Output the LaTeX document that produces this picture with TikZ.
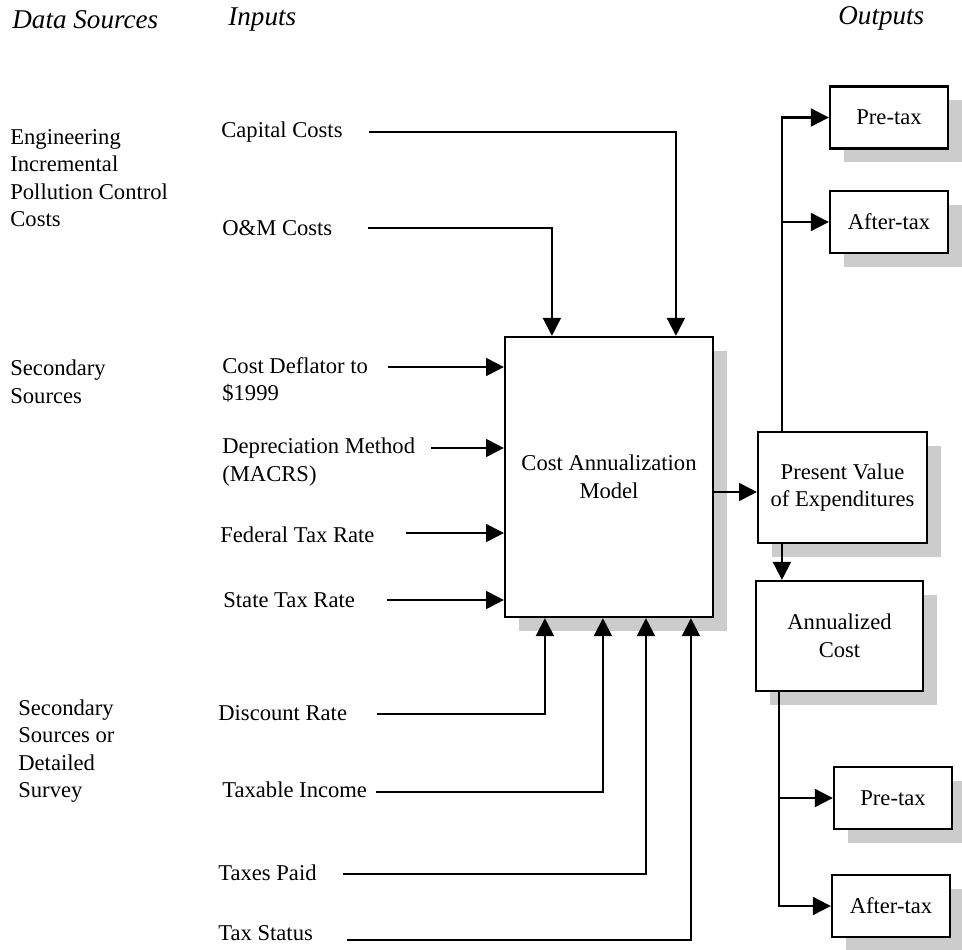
\documentclass[tikz,border=0pt]{standalone}
\usepackage{fontspec}
\setmainfont{Liberation Serif}
\usetikzlibrary{arrows.meta, calc, shadows}

\begin{document}
\begin{tikzpicture}[
    x=0.531pt, y=-0.531pt,
    box/.style={rectangle, draw=black, line width=1.2pt, fill=white, align=center, inner sep=2pt, font=\fontsize{12}{14.6}\selectfont, general shadow={fill=black!20, shadow xshift=7.4pt, shadow yshift=-7.4pt}},
    smallbox/.style={box, minimum width=62.7pt, minimum height=32.9pt},
    lbl/.style={anchor=west, align=left, inner sep=0pt, font=\fontsize{12}{14.6}\selectfont},
    hdr/.style={anchor=west, inner sep=0pt, font=\fontsize{14.4}{17}\selectfont\itshape},
    arr/.style={-{Triangle[length=9.5pt, width=9.5pt]}, line width=1.1pt}
]
    \useasboundingbox (0,0) rectangle (962,950);

    % Column headers
    \node[hdr] (h_src) at (12,20) {Data Sources};
    \node[hdr] (h_in) at (228,20) {Inputs};
    \node[hdr] (h_out) at (838,18) {Outputs};

    % Data sources (left column)
    \node[lbl] (src_eng) at (10,178) {Engineering\\Incremental\\Pollution Control\\Costs};
    \node[lbl] (src_sec) at (10,382) {Secondary\\Sources};
    \node[lbl] (src_svy) at (18,751) {Secondary\\Sources or\\Detailed\\Survey};

    % Model and output boxes
    \node[box, minimum width=110.4pt, minimum height=148.7pt] (model) at (609,477) {Cost Annualization\\Model};
    \node[box, minimum width=89.7pt, minimum height=58.9pt] (pv) at (842.5,487.5) {Present Value\\of Expenditures};
    \node[box, minimum width=88.7pt, minimum height=58.4pt] (annual) at (839.5,636) {Annualized\\Cost};
    \node[smallbox] (pre_pv) at (889,117.5) {Pre-tax};
    \node[smallbox] (aft_pv) at (889,222) {After-tax};
    \node[smallbox] (pre_ac) at (893,798) {Pre-tax};
    \node[smallbox] (aft_ac) at (891,906) {After-tax};

    % Inputs from above
    \node[lbl] (in_cap) at (221,132) {Capital Costs};
    \node[lbl] (in_om) at (222,228) {O\&M Costs};
    \coordinate (cap_s) at (369,132);
    \coordinate (om_s) at (368,228);
    \draw[arr] (cap_s) -| ($(model.north west)+(172,0)$);
    \draw[arr] (om_s) -| ($(model.north west)+(48,0)$);

    % Inputs from the left
    \node[lbl] (in_defl) at (222,380) {Cost Deflator to\\\$1999};
    \node[lbl] (in_dep) at (222,462) {Depreciation Method\\(MACRS)};
    \node[lbl] (in_fed) at (220,535) {Federal Tax Rate};
    \node[lbl] (in_st) at (223,600) {State Tax Rate};
    \coordinate (defl_s) at (388,367);
    \coordinate (dep_s) at (431,448);
    \coordinate (fed_s) at (406,533);
    \coordinate (st_s) at (387,600);
    \draw[arr] (defl_s) -- (defl_s -| model.west);
    \draw[arr] (dep_s) -- (dep_s -| model.west);
    \draw[arr] (fed_s) -- (fed_s -| model.west);
    \draw[arr] (st_s) -- (st_s -| model.west);

    % Inputs from below
    \node[lbl] (in_disc) at (218,713) {Discount Rate};
    \node[lbl] (in_inc) at (222,790) {Taxable Income};
    \node[lbl] (in_paid) at (218,873) {Taxes Paid};
    \node[lbl] (in_stat) at (218,933) {Tax Status};
    \coordinate (disc_s) at (377,714);
    \coordinate (inc_s) at (376,792);
    \coordinate (paid_s) at (343,874);
    \coordinate (stat_s) at (347,940);
    \draw[arr] (disc_s) -| ($(model.south west)+(41,0)$);
    \draw[arr] (inc_s) -| ($(model.south west)+(99,0)$);
    \draw[arr] (paid_s) -| ($(model.south west)+(142,0)$);
    \draw[arr] (stat_s) -| ($(model.south west)+(187,0)$);

    % Outputs
    \coordinate (m_out) at ($(model.east)+(0,15)$);
    \coordinate (pv_top) at ($(pv.north west)+(25,0)$);
    \coordinate (pv_bot) at ($(pv.south west)+(25,0)$);
    \coordinate (ac_bot) at ($(annual.south west)+(24,0)$);
    \draw[arr] (m_out) -- (m_out -| pv.west);
    \draw[arr] (pv_bot) -- (pv_bot |- annual.north);
    \draw[arr] (pv_top) |- (pre_pv.west);
    \draw[arr] (pv_top) |- (aft_pv.west);
    \draw[arr] (ac_bot) |- (pre_ac.west);
    \draw[arr] (ac_bot) |- (aft_ac.west);
\end{tikzpicture}
\end{document}
